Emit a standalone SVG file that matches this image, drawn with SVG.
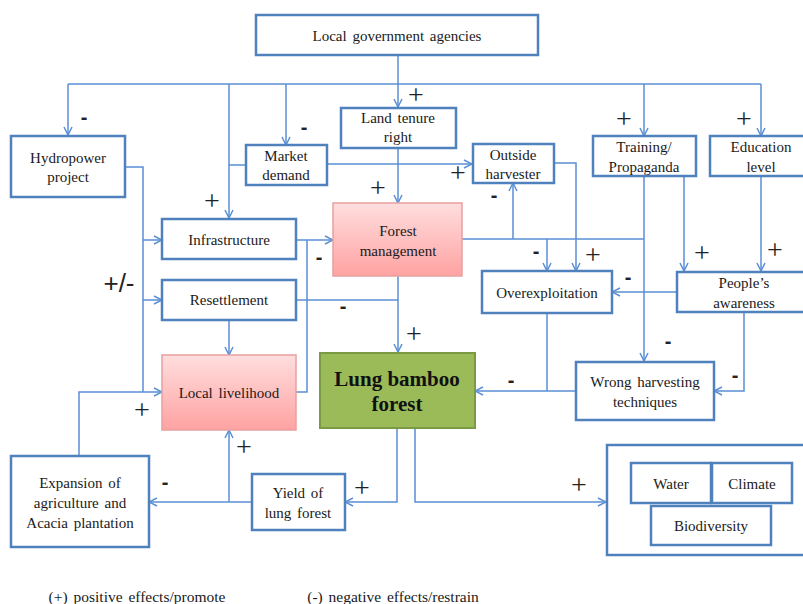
<svg xmlns="http://www.w3.org/2000/svg" width="803" height="604" viewBox="0 0 803 604">
<defs>
<linearGradient id="pink" x1="0" y1="0" x2="0" y2="1">
<stop offset="0" stop-color="#ffdede"/>
<stop offset="1" stop-color="#ffa2a2"/>
</linearGradient>
<marker id="arr" viewBox="0 0 10 10" refX="9" refY="5" markerWidth="10" markerHeight="10" markerUnits="userSpaceOnUse" orient="auto">
<path d="M1,1 L9,5 L1,9" fill="none" stroke="#5b8fd5" stroke-width="1.5"/>
</marker>
<style>
.box{fill:#ffffff;stroke:#4f81bd;stroke-width:2.5}
.pink{fill:url(#pink);stroke:#e8a0a0;stroke-width:1.5}
.green{fill:#9bbb59;stroke:#7a9a44;stroke-width:2}
.t{font-family:"Liberation Serif","Times New Roman",serif;font-size:15px;fill:#1a1a1a;text-anchor:middle;word-spacing:2px}
.lg{font-family:"Liberation Serif","Times New Roman",serif;font-size:15.5px;fill:#1a1a1a;text-anchor:middle;word-spacing:2px}
.big{font-family:"Liberation Serif","Times New Roman",serif;font-size:21px;font-weight:bold;fill:#111;text-anchor:middle}
.c{fill:none;stroke:#5b8fd5;stroke-width:1.5}
.a{marker-end:url(#arr)}
.p{font-family:"Liberation Serif","Times New Roman",serif;font-size:28px;fill:#222;text-anchor:middle}
.m{font-family:"Liberation Sans",Arial,sans-serif;font-size:20px;font-weight:bold;fill:#222;text-anchor:middle}
.pm{font-family:"Liberation Sans",Arial,sans-serif;font-size:26px;fill:#222;text-anchor:middle}
</style>
</defs>
<rect width="803" height="604" fill="#ffffff"/>

<g id="connectors">
<path class="c" d="M68,84 H761"/>
<path class="c a" d="M398,55 V107"/>
<path class="c a" d="M68,84 V135"/>
<path class="c a" d="M229,84 V218"/>
<path class="c" d="M246,165 H229"/>
<path class="c a" d="M286,84 V145"/>
<path class="c a" d="M644,84 V136"/>
<path class="c a" d="M761,84 V136"/>
<path class="c a" d="M327,164 H472"/>
<path class="c a" d="M398,148 V203"/>
<path class="c" d="M125,167 H143 V392"/>
<path class="c a" d="M143,240 H162"/>
<path class="c a" d="M143,300 H162"/>
<path class="c a" d="M79,456 V392 H162"/>
<path class="c a" d="M296,240 H333"/>
<path class="c" d="M307,240 V392 H296"/>
<path class="c" d="M296,300 H398"/>
<path class="c a" d="M229,320 V355"/>
<path class="c a" d="M398,276 V352"/>
<path class="c" d="M462,239 H644"/>
<path class="c a" d="M513,239 V183"/>
<path class="c a" d="M547,239 V271"/>
<path class="c a" d="M554,163 H576 V271"/>
<path class="c a" d="M644,176 V361"/>
<path class="c a" d="M684,176 V271"/>
<path class="c a" d="M761,176 V271"/>
<path class="c a" d="M677,292 H612"/>
<path class="c" d="M547,313 V391"/>
<path class="c a" d="M576,391 H475"/>
<path class="c a" d="M744,312 V391 H714"/>
<path class="c a" d="M397,428 V502 H345"/>
<path class="c a" d="M415,428 V502 H606"/>
<path class="c a" d="M252,502 H149"/>
<path class="c a" d="M229,502 V430"/>
</g>

<g id="agencies"><rect class="box" x="256" y="15" width="282" height="40"/><text class="t" x="397" y="41">Local government agencies</text></g>
<g id="hydropower"><rect class="box" x="11" y="136" width="114" height="61"/><text class="t" x="68" y="163">Hydropower</text><text class="t" x="68" y="182">project</text></g>
<g id="market"><rect class="box" x="246" y="145" width="81" height="40"/><text class="t" x="286" y="161">Market</text><text class="t" x="286" y="180">demand</text></g>
<g id="landtenure"><rect class="box" x="341" y="108" width="115" height="40"/><text class="t" x="398" y="123">Land tenure</text><text class="t" x="398" y="142">right</text></g>
<g id="outside"><rect class="box" x="473" y="144" width="81" height="39"/><text class="t" x="513" y="160">Outside</text><text class="t" x="513" y="179">harvester</text></g>
<g id="training"><rect class="box" x="593" y="136" width="103" height="40"/><text class="t" x="644" y="152">Training/</text><text class="t" x="644" y="172">Propaganda</text></g>
<g id="education"><rect class="box" x="710" y="136" width="96" height="40"/><text class="t" x="761" y="152">Education</text><text class="t" x="761" y="172">level</text></g>
<g id="infrastructure"><rect class="box" x="162" y="219" width="134" height="40"/><text class="t" x="229" y="245">Infrastructure</text></g>
<g id="forestmgmt"><rect class="pink" x="333" y="203" width="129" height="73"/><text class="t" x="398" y="236">Forest</text><text class="t" x="398" y="256">management</text></g>
<g id="resettlement"><rect class="box" x="162" y="280" width="134" height="40"/><text class="t" x="229" y="305">Resettlement</text></g>
<g id="overexploitation"><rect class="box" x="482" y="271" width="130" height="42"/><text class="t" x="547" y="298">Overexploitation</text></g>
<g id="awareness"><rect class="box" x="677" y="272" width="129" height="40"/><text class="t" x="744" y="288">People’s</text><text class="t" x="744" y="308">awareness</text></g>
<g id="livelihood"><rect class="pink" x="162" y="355" width="134" height="75"/><text class="t" x="229" y="398">Local livelihood</text></g>
<g id="lungbamboo"><rect class="green" x="320" y="353" width="155" height="75"/><text class="big" x="397" y="386">Lung bamboo</text><text class="big" x="397" y="411">forest</text></g>
<g id="wrongharvest"><rect class="box" x="576" y="362" width="138" height="58"/><text class="t" x="645" y="387">Wrong harvesting</text><text class="t" x="645" y="407">techniques</text></g>
<g id="expansion"><rect class="box" x="11" y="456" width="138" height="91"/><text class="t" x="80" y="488">Expansion of</text><text class="t" x="80" y="508">agriculture and</text><text class="t" x="80" y="528">Acacia plantation</text></g>
<g id="yield"><rect class="box" x="252" y="474" width="93" height="56"/><text class="t" x="298" y="498">Yield of</text><text class="t" x="298" y="518">lung forest</text></g>
<g id="environment"><rect class="box" x="607" y="445" width="200" height="110" stroke-width="3"/>
<g id="water"><rect class="box" x="631" y="463" width="80" height="40"/><text class="t" x="671" y="489">Water</text></g>
<g id="climate"><rect class="box" x="712" y="463" width="80" height="40"/><text class="t" x="752" y="489">Climate</text></g>
<g id="biodiversity"><rect class="box" x="651" y="506" width="120" height="39"/><text class="t" x="711" y="531">Biodiversity</text></g>
</g>

<g id="signs">
<text class="m" x="84" y="124">-</text>
<text class="m" x="304" y="134">-</text>
<text class="p" x="416" y="104">+</text>
<text class="p" x="378" y="197">+</text>
<text class="p" x="458" y="182">+</text>
<text class="m" x="494" y="202">-</text>
<text class="p" x="624" y="128">+</text>
<text class="p" x="744" y="128">+</text>
<text class="p" x="212" y="210">+</text>
<text class="m" x="319" y="264">-</text>
<text class="pm" x="119" y="292">+/-</text>
<text class="m" x="343" y="313">-</text>
<text class="m" x="536" y="258">-</text>
<text class="p" x="593" y="264">+</text>
<text class="p" x="702" y="262">+</text>
<text class="p" x="775" y="259">+</text>
<text class="m" x="628" y="284">-</text>
<text class="m" x="668" y="348">-</text>
<text class="m" x="735" y="382">-</text>
<text class="m" x="511" y="387">-</text>
<text class="p" x="414" y="343">+</text>
<text class="p" x="142" y="419">+</text>
<text class="p" x="244" y="456">+</text>
<text class="m" x="165" y="489">-</text>
<text class="p" x="362" y="497">+</text>
<text class="p" x="579" y="494">+</text>
</g>

<g id="legend">
<text class="lg" x="137" y="602">(+) positive effects/promote</text>
<text class="lg" x="393" y="602">(-) negative effects/restrain</text>
</g>
</svg>
